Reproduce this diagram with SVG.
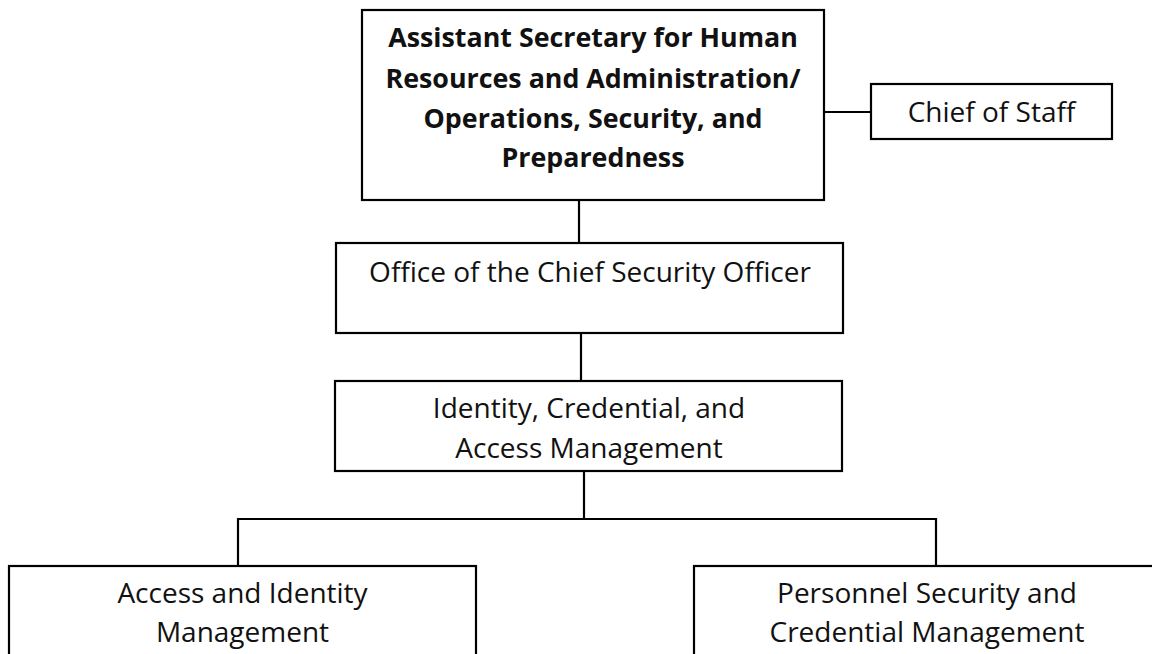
<svg xmlns="http://www.w3.org/2000/svg" width="1152" height="654" viewBox="0 0 1152 654">
<style>
.box{fill:#fff;stroke:#000;stroke-width:2.2}
.ln{stroke:#000;stroke-width:2.2;fill:none}
text{font-family:"Open Sans","Noto Sans",sans-serif;font-size:28px;fill:#111;text-anchor:middle}
.b{font-weight:bold;font-size:26.8px}
</style>
<rect width="1152" height="654" fill="#fff"/>
<g id="connectors">
<line class="ln" x1="579" y1="200" x2="579" y2="243"/>
<line class="ln" x1="824" y1="112" x2="871" y2="112"/>
<line class="ln" x1="581" y1="333" x2="581" y2="381"/>
<line class="ln" x1="584" y1="471" x2="584" y2="519"/>
<polyline class="ln" points="238,566 238,519 936,519 936,566"/>
</g>
<g id="asst">
<rect class="box" x="362" y="10" width="462" height="190"/>
<text class="b" x="593" y="47">Assistant Secretary for Human</text>
<text class="b" x="593" y="88">Resources and Administration/</text>
<text class="b" x="593" y="128">Operations, Security, and</text>
<text class="b" x="593" y="167">Preparedness</text>
</g>
<g id="cos">
<rect class="box" x="871" y="84" width="241" height="55"/>
<text x="991.5" y="122">Chief of Staff</text>
</g>
<g id="ocso">
<rect class="box" x="336" y="243" width="507" height="90"/>
<text x="590" y="282">Office of the Chief Security Officer</text>
</g>
<g id="icam">
<rect class="box" x="335" y="381" width="507" height="90"/>
<text x="589" y="418">Identity, Credential, and</text>
<text x="589" y="458">Access Management</text>
</g>
<g id="aim">
<rect class="box" x="9" y="566" width="467" height="100"/>
<text x="242.5" y="603">Access and Identity</text>
<text x="242.5" y="642">Management</text>
</g>
<g id="pscm">
<rect class="box" x="694" y="566" width="470" height="100"/>
<text x="927" y="603">Personnel Security and</text>
<text x="927" y="642">Credential Management</text>
</g>
</svg>
